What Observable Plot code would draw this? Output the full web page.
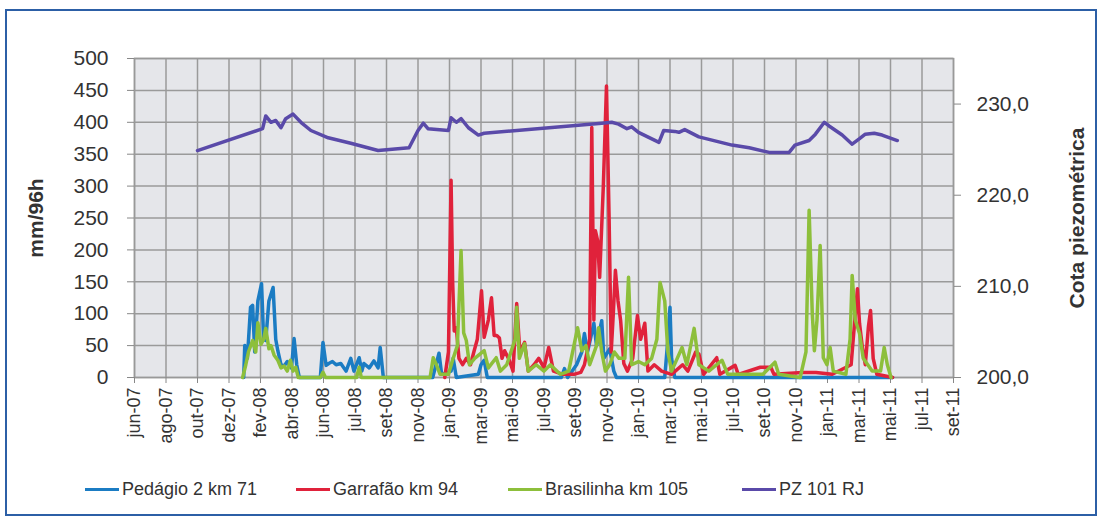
<!DOCTYPE html>
<html>
<head>
<meta charset="utf-8">
<script src="https://cdn.jsdelivr.net/npm/d3@7"></script>
<script src="https://cdn.jsdelivr.net/npm/@observablehq/plot@0.6"></script>
<style>
  body { margin: 0; background: #fff; font-family: "Liberation Sans", Arial, sans-serif; }
  #wrap { position: relative; width: 1103px; height: 521px; overflow: hidden; background: #fff; }
  #border { position: absolute; left: 5px; top: 9px; width: 1092px; height: 507px; border: 2px solid #2c5fa6; box-sizing: border-box; }
  #chart { position: absolute; left: 0; top: 0; }
  .item { position: absolute; top: 478px; height: 22px; display: flex; align-items: center; font-size: 18px; color: #333; white-space: nowrap; }
  .item i { display: inline-block; width: 34px; height: 3px; margin-right: 3px; }
</style>
</head>
<body>
<div id="wrap">
  <div id="border"></div>
  <div id="chart"></div>
  <div id="legend"></div>
</div>
<script>
// Axis labels (one tick every 60 days starting June 2007)
const xLabels = ["jun-07","ago-07","out-07","dez-07","fev-08","abr-08","jun-08","jul-08","set-08","nov-08",
  "jan-09","mar-09","mai-09","jul-09","set-09","nov-09","jan-10","mar-10","mai-10","jul-10","set-10",
  "nov-10","jan-11","mar-11","mai-11","jul-11","set-11"];
const yTicks = [0, 50, 100, 150, 200, 250, 300, 350, 400, 450, 500];
const cotaTicks = [200, 210, 220, 230];
const cotaDomain = [200, 235];

// Rainfall, mm per 96 h
const pedagio = [
  ["2007-12-26", 0], ["2007-12-28", 50], ["2008-01-02", 30], ["2008-01-08", 110], ["2008-01-12", 113],
  ["2008-01-16", 40], ["2008-01-22", 120], ["2008-01-29", 147], ["2008-02-02", 60], ["2008-02-06", 58],
  ["2008-02-12", 120], ["2008-02-20", 141], ["2008-02-25", 60], ["2008-02-29", 42], ["2008-03-06", 20],
  ["2008-03-12", 18], ["2008-03-18", 25], ["2008-03-26", 15], ["2008-03-31", 61], ["2008-04-05", 20],
  ["2008-04-10", 0], ["2008-05-20", 0], ["2008-05-25", 55], ["2008-05-31", 19], ["2008-06-05", 22],
  ["2008-06-12", 25], ["2008-06-19", 20], ["2008-06-28", 22], ["2008-07-08", 10], ["2008-07-17", 30],
  ["2008-07-23", 10], ["2008-08-02", 31], ["2008-08-07", 10], ["2008-08-11", 22], ["2008-08-21", 15],
  ["2008-08-30", 26], ["2008-09-07", 15], ["2008-09-11", 47], ["2008-09-17", 0], ["2008-12-20", 0],
  ["2009-01-01", 38], ["2009-01-06", 5], ["2009-01-24", 10], ["2009-01-28", 30], ["2009-02-03", 0],
  ["2009-03-17", 5], ["2009-03-22", 20], ["2009-03-28", 27], ["2009-04-03", 0], ["2009-08-22", 0],
  ["2009-08-28", 14], ["2009-09-03", 0], ["2009-09-20", 20], ["2009-09-30", 40], ["2009-10-05", 69],
  ["2009-10-11", 40], ["2009-10-23", 85], ["2009-10-28", 50], ["2009-11-07", 89], ["2009-11-11", 30],
  ["2009-11-22", 45], ["2009-11-30", 10], ["2009-12-05", 0], ["2010-03-07", 0], ["2010-03-13", 60],
  ["2010-03-17", 110], ["2010-03-20", 30], ["2010-03-26", 0], ["2011-05-15", 0]
];
const garrafao = [
  ["2009-01-12", 0], ["2009-01-19", 40], ["2009-01-24", 309], ["2009-01-27", 150], ["2009-01-30", 73],
  ["2009-02-03", 78], ["2009-02-08", 30], ["2009-02-15", 20], ["2009-02-22", 30], ["2009-03-02", 20],
  ["2009-03-09", 42], ["2009-03-15", 60], ["2009-03-23", 136], ["2009-03-28", 63], ["2009-04-05", 90],
  ["2009-04-11", 125], ["2009-04-16", 66], ["2009-04-21", 66], ["2009-04-26", 62], ["2009-05-01", 30],
  ["2009-05-06", 42], ["2009-05-15", 27], ["2009-05-22", 10], ["2009-05-29", 116], ["2009-06-04", 40],
  ["2009-06-13", 55], ["2009-06-20", 10], ["2009-07-01", 20], ["2009-07-10", 30], ["2009-07-20", 15],
  ["2009-07-29", 47], ["2009-08-07", 10], ["2009-08-25", 5], ["2009-09-15", 5], ["2009-09-28", 8],
  ["2009-10-05", 20], ["2009-10-15", 60], ["2009-10-19", 392], ["2009-10-23", 90], ["2009-10-26", 230],
  ["2009-10-30", 215], ["2009-11-03", 157], ["2009-11-10", 300], ["2009-11-16", 457], ["2009-11-21", 250],
  ["2009-11-25", 40], ["2009-11-29", 100], ["2009-12-03", 168], ["2009-12-08", 120], ["2009-12-13", 89],
  ["2009-12-19", 22], ["2009-12-26", 10], ["2010-01-05", 30], ["2010-01-14", 97], ["2010-01-20", 60],
  ["2010-01-28", 85], ["2010-02-03", 10], ["2010-02-15", 20], ["2010-03-01", 10], ["2010-03-20", 5],
  ["2010-04-10", 20], ["2010-04-20", 10], ["2010-05-05", 40], ["2010-05-11", 37], ["2010-05-20", 5],
  ["2010-06-14", 31], ["2010-06-20", 5], ["2010-07-19", 19], ["2010-07-25", 5], ["2010-09-05", 16],
  ["2010-09-25", 16], ["2010-10-01", 5], ["2010-11-24", 8], ["2010-12-20", 8], ["2011-01-20", 5],
  ["2011-02-25", 20], ["2011-03-05", 100], ["2011-03-09", 139], ["2011-03-13", 85], ["2011-03-18", 50],
  ["2011-03-24", 20], ["2011-03-30", 80], ["2011-04-03", 105], ["2011-04-08", 30], ["2011-04-15", 5],
  ["2011-05-15", 0]
];
const brasilinha = [
  ["2007-12-24", 0], ["2007-12-30", 20], ["2008-01-04", 40], ["2008-01-12", 58], ["2008-01-18", 40],
  ["2008-01-22", 86], ["2008-01-28", 52], ["2008-02-02", 60], ["2008-02-06", 77], ["2008-02-12", 45],
  ["2008-02-16", 50], ["2008-02-22", 35], ["2008-02-29", 27], ["2008-03-06", 15], ["2008-03-12", 18],
  ["2008-03-18", 10], ["2008-03-24", 27], ["2008-03-29", 10], ["2008-04-03", 16], ["2008-04-08", 0],
  ["2008-05-20", 0], ["2008-05-25", 8], ["2008-05-30", 0], ["2008-07-28", 0], ["2008-08-02", 16],
  ["2008-08-06", 0], ["2008-12-15", 0], ["2008-12-21", 31], ["2008-12-27", 20], ["2009-01-03", 5],
  ["2009-01-19", 5], ["2009-01-28", 30], ["2009-02-05", 50], ["2009-02-12", 199], ["2009-02-17", 70],
  ["2009-02-22", 58], ["2009-02-28", 20], ["2009-03-10", 30], ["2009-03-28", 42], ["2009-04-05", 15],
  ["2009-04-20", 31], ["2009-04-28", 10], ["2009-05-10", 20], ["2009-05-26", 60], ["2009-05-29", 110],
  ["2009-06-03", 30], ["2009-06-13", 53], ["2009-06-20", 10], ["2009-07-05", 20], ["2009-07-20", 10],
  ["2009-08-01", 20], ["2009-08-20", 5], ["2009-09-05", 10], ["2009-09-15", 50], ["2009-09-22", 78],
  ["2009-09-30", 42], ["2009-10-08", 50], ["2009-10-15", 20], ["2009-10-28", 50], ["2009-11-01", 78],
  ["2009-11-07", 40], ["2009-11-14", 10], ["2009-11-22", 20], ["2009-12-01", 40], ["2009-12-10", 30],
  ["2009-12-21", 30], ["2009-12-28", 157], ["2010-01-03", 20], ["2010-01-16", 25], ["2010-01-28", 20],
  ["2010-02-10", 30], ["2010-02-20", 60], ["2010-02-26", 149], ["2010-03-07", 120], ["2010-03-13", 40],
  ["2010-03-20", 10], ["2010-04-09", 47], ["2010-04-18", 20], ["2010-05-02", 77], ["2010-05-11", 20],
  ["2010-05-30", 10], ["2010-06-24", 27], ["2010-07-05", 5], ["2010-08-15", 5], ["2010-09-10", 5],
  ["2010-10-03", 24], ["2010-10-10", 5], ["2010-11-20", 0], ["2010-12-01", 40], ["2010-12-07", 262],
  ["2010-12-13", 100], ["2010-12-17", 42], ["2010-12-22", 90], ["2010-12-28", 207], ["2011-01-03", 31],
  ["2011-01-10", 20], ["2011-01-16", 47], ["2011-01-22", 10], ["2011-02-15", 5], ["2011-02-23", 60],
  ["2011-02-27", 160], ["2011-03-05", 90], ["2011-03-13", 69], ["2011-03-20", 30], ["2011-04-06", 10],
  ["2011-04-22", 10], ["2011-04-29", 47], ["2011-05-05", 20], ["2011-05-12", 0]
];
// Piezometric level of PZ 101 RJ (m)
const pz101 = [
  ["2007-09-29", 224.9], ["2008-01-31", 227.3], ["2008-02-06", 228.7], ["2008-02-16", 228.0],
  ["2008-02-25", 228.2], ["2008-03-06", 227.4], ["2008-03-15", 228.4], ["2008-03-29", 228.9],
  ["2008-04-13", 228.0], ["2008-05-02", 227.1], ["2008-06-04", 226.3], ["2008-07-17", 225.7],
  ["2008-09-07", 224.9], ["2008-11-05", 225.2], ["2008-11-22", 227.1], ["2008-12-02", 227.9],
  ["2008-12-11", 227.3], ["2009-01-19", 227.1], ["2009-01-24", 228.5], ["2009-02-03", 228.0],
  ["2009-02-12", 228.4], ["2009-02-26", 227.4], ["2009-03-17", 226.6], ["2009-03-28", 226.8],
  ["2009-11-07", 227.9], ["2009-11-26", 228.0], ["2009-12-09", 227.8], ["2009-12-25", 227.3],
  ["2010-01-03", 227.5], ["2010-01-16", 226.9], ["2010-02-24", 225.8], ["2010-03-05", 227.1],
  ["2010-03-26", 227.0], ["2010-04-03", 226.9], ["2010-04-14", 227.2], ["2010-05-11", 226.4],
  ["2010-07-13", 225.5], ["2010-08-15", 225.2], ["2010-09-22", 224.7], ["2010-10-30", 224.7],
  ["2010-11-10", 225.5], ["2010-12-07", 226.0], ["2010-12-19", 226.7], ["2011-01-05", 228.0],
  ["2011-01-14", 227.6], ["2011-02-08", 226.6], ["2011-02-27", 225.6], ["2011-03-13", 226.2],
  ["2011-03-24", 226.7], ["2011-04-10", 226.8], ["2011-04-25", 226.6], ["2011-05-24", 226.0]
];

const seriesNames = ["Pedágio 2 km 71", "Garrafão km 94", "Brasilinha km 105", "PZ 101 RJ"];
const seriesColors = ["#1b7cc3", "#e0223b", "#8dbf3b", "#5a4aa9"];

const rows = arr => arr.map(([d, v]) => ({date: new Date(d), value: v}));
const start = new Date(Date.UTC(2007, 5, 1));
const tickDates = xLabels.map((_, i) => d3.utcDay.offset(start, 60 * i));
const end = tickDates[tickDates.length - 1];
const labelFor = d => xLabels[Math.round((d - start) / (60 * 864e5))];

// the piezometric series shares the left scale: map its range onto 0–500
const cotaToMm = v => (v - cotaDomain[0]) / (cotaDomain[1] - cotaDomain[0]) * 500;
const mmToCota = v => cotaDomain[0] + v / 500 * (cotaDomain[1] - cotaDomain[0]);

const font = '"Liberation Sans", Arial, sans-serif';
const lineOpts = (color) => ({x: "date", y: "value", stroke: color, strokeWidth: 3.5, strokeLinejoin: "round"});

const chart = Plot.plot({
  width: 1103,
  height: 460,
  marginLeft: 134,
  marginRight: 150,
  marginTop: 58,
  marginBottom: 83,
  style: {fontFamily: font, fontSize: "20px", color: "#333", background: "transparent"},
  x: {type: "utc", domain: [start, end]},
  y: {domain: [0, 500]},
  marks: [
    Plot.frame({fill: "#e5e6ea"}),
    Plot.gridY(yTicks, {stroke: "#9a9a9a", strokeOpacity: 1, strokeWidth: 1.5}),
    Plot.gridX(tickDates, {stroke: "#9a9a9a", strokeOpacity: 1, strokeWidth: 1.5}),
    Plot.frame({stroke: "#999", strokeWidth: 1.5}),
    Plot.axisY(yTicks, {anchor: "left", tickSize: 7, tickPadding: 19, label: null, fontSize: 21, letterSpacing: "0.6px", stroke: "#888"}),
    Plot.axisY(cotaTicks.map(cotaToMm), {anchor: "right", tickSize: 7, tickPadding: 16, label: null, fontSize: 21, letterSpacing: "0.6px", stroke: "#888",
      tickFormat: v => mmToCota(v).toFixed(1).replace(".", ",")}),
    Plot.axisX(tickDates, {anchor: "bottom", tickRotate: -90, tickSize: 6, tickPadding: 4, label: null, fontSize: 18, stroke: "#888",
      tickFormat: labelFor}),
    Plot.line(rows(pedagio), lineOpts(seriesColors[0])),
    Plot.line(rows(garrafao), lineOpts(seriesColors[1])),
    Plot.line(rows(brasilinha), lineOpts(seriesColors[2])),
    Plot.line(rows(pz101), {...lineOpts(seriesColors[3]), y: d => cotaToMm(d.value)}),
    Plot.text(["mm/96h"], {frameAnchor: "left", textAnchor: "middle", dx: -98, rotate: -90, fontWeight: "bold", fontSize: 21, fill: "#333"}),
    Plot.text(["Cota piezométrica"], {frameAnchor: "right", textAnchor: "middle", dx: 124, rotate: -90, fontWeight: "bold", fontSize: 21, fill: "#333"})
  ]
});
document.getElementById("chart").append(chart);

// legend below the chart
const legendX = [85, 296, 508, 742];
const legend = document.getElementById("legend");
seriesNames.forEach((name, i) => {
  const item = document.createElement("div");
  item.className = "item";
  item.style.left = legendX[i] + "px";
  const sw = document.createElement("i");
  sw.style.background = seriesColors[i];
  item.append(sw, document.createTextNode(name));
  legend.append(item);
});
</script>
</body>
</html>
